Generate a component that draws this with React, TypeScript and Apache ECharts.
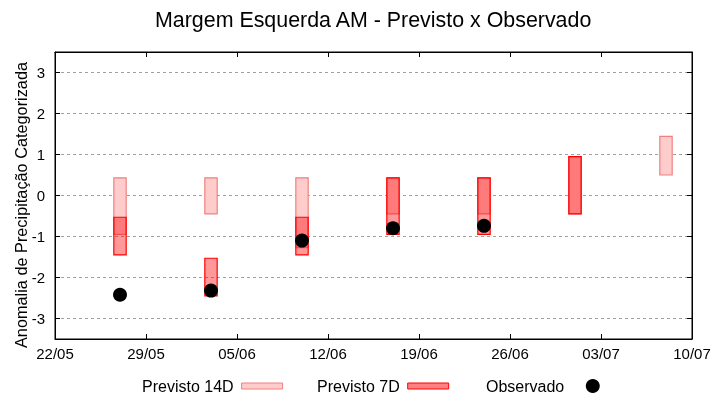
import React, { useEffect, useRef } from "react";
import * as echarts from "echarts";

const xTickLabels = ["22/05", "29/05", "05/06", "12/06", "19/06", "26/06", "03/07", "10/07"];
const yTickValues = [-3, -2, -1, 0, 1, 2, 3];
const yAxisTitle = "Anomalia de Precipitação Categorizada";

const dates14 = ["27/05", "03/06", "10/06", "17/06", "24/06", "01/07", "08/07"];
const low14 = [-0.95, -0.45, -1.27, -0.45, -0.45, -0.45, 0.5];
const high14 = [0.43, 0.43, 0.43, 0.43, 0.43, 0.95, 1.44];

const dates7 = ["27/05", "03/06", "10/06", "17/06", "24/06", "01/07"];
const low7 = [-1.45, -2.45, -1.45, -0.95, -0.95, -0.45];
const high7 = [-0.53, -1.53, -0.53, 0.43, 0.43, 0.95];

const datesObs = ["27/05", "03/06", "10/06", "17/06", "24/06"];
const obs = [-2.42, -2.32, -1.1, -0.8, -0.74];

const FONT = "'Liberation Sans', Arial, sans-serif";

function dayOf(s: string): number {
  const [d, m] = s.split("/").map(Number);
  const [d0, m0] = xTickLabels[0].split("/").map(Number);
  return Math.round((Date.UTC(2021, m - 1, d) - Date.UTC(2021, m0 - 1, d0)) / 86400000);
}

function barRender(fill: string, stroke: string) {
  return (params: any, api: any) => {
    const x = api.value(0);
    const lo = api.value(1);
    const hi = api.value(2);
    const p1 = api.coord([x, hi]);
    const p2 = api.coord([x, lo]);
    const w = api.size([0.95, 0])[0];
    return {
      type: "rect",
      shape: { x: p1[0] - w / 2, y: p1[1], width: w, height: p2[1] - p1[1] },
      style: { fill, stroke, lineWidth: 1.2 },
    };
  };
}

export default function App() {
  const ref = useRef<HTMLDivElement>(null);
  useEffect(() => {
    if (!ref.current) return;
    const chart = echarts.init(ref.current, undefined, { renderer: "svg" });
    const totalDays = (xTickLabels.length - 1) * 7;
    const data14 = dates14.map((d, i) => [dayOf(d), low14[i], high14[i]]);
    const data7 = dates7.map((d, i) => [dayOf(d), low7[i], high7[i]]);
    const dataObs = datesObs.map((d, i) => [dayOf(d), obs[i]]);
    const legendBase = {
      orient: "horizontal",
      align: "right",
      padding: 0,
      top: 378,
      textStyle: { fontFamily: FONT, fontSize: 16, color: "#000", padding: [0, 3, 0, 0] },
    };
    const axisLineStyle = { show: true, onZero: false, lineStyle: { color: "#000" } };
    const tickStyle = { show: true, inside: true, length: 5, lineStyle: { color: "#000" } };
    chart.setOption({
      animation: false,
      title: {
        text: "Margem Esquerda AM - Previsto x Observado",
        left: 155,
        top: 9,
        padding: 0,
        textStyle: { fontFamily: FONT, fontSize: 21.4, fontWeight: "normal", color: "#000" },
      },
      graphic: [
        {
          type: "text",
          x: 21,
          y: 205,
          rotation: Math.PI / 2,
          style: {
            text: yAxisTitle,
            fontFamily: FONT,
            fontSize: 16.3,
            fill: "#000",
            align: "center",
            verticalAlign: "middle",
          },
        },
      ],
      grid: {
        left: 55,
        right: 28,
        top: 52,
        bottom: 61,
        show: true,
        borderColor: "#000",
        borderWidth: 1,
        containLabel: false,
        outerBoundsMode: "none",
      },
      legend: [
        {
          ...legendBase,
          left: 142,
          itemWidth: 41,
          itemHeight: 6,
          data: [{ name: "Previsto 14D", icon: "rect", itemStyle: { color: "#ffcccc", borderColor: "#f08080", borderWidth: 1 } }],
        },
        {
          ...legendBase,
          left: 317,
          itemWidth: 41,
          itemHeight: 6,
          data: [{ name: "Previsto 7D", icon: "rect", itemStyle: { color: "#ff8080", borderColor: "#ff0000", borderWidth: 1 } }],
        },
        {
          ...legendBase,
          left: 486,
          itemWidth: 41,
          itemHeight: 14,
          data: [{ name: "Observado", icon: "circle", itemStyle: { color: "#000", opacity: 1 } }],
        },
      ],
      xAxis: [
        {
          type: "value",
          min: 0,
          max: totalDays,
          interval: 7,
          axisLine: axisLineStyle,
          axisTick: tickStyle,
          axisLabel: {
            margin: 7,
            fontFamily: FONT,
            fontSize: 15,
            color: "#000",
            formatter: (v: number) => xTickLabels[Math.round(v / 7)] ?? "",
          },
          splitLine: { show: false },
        },
        {
          type: "value",
          position: "top",
          min: 0,
          max: totalDays,
          interval: 7,
          axisLine: axisLineStyle,
          axisTick: tickStyle,
          axisLabel: { show: false },
          splitLine: { show: false },
        },
      ],
      yAxis: [
        {
          type: "value",
          min: -3.5,
          max: 3.5,
          splitNumber: yTickValues.length,
          axisLine: axisLineStyle,
          axisTick: tickStyle,
          axisLabel: {
            margin: 10,
            fontFamily: FONT,
            fontSize: 15,
            color: "#000",
            showMinLabel: false,
            showMaxLabel: false,
            formatter: (v: number) => (yTickValues.includes(v) ? String(v) : ""),
          },
          splitLine: { show: true, lineStyle: { color: "#a0a0a0", type: [3, 3], width: 1 } },
        },
        {
          type: "value",
          position: "right",
          min: -3.5,
          max: 3.5,
          splitNumber: yTickValues.length,
          axisLine: axisLineStyle,
          axisTick: tickStyle,
          axisLabel: { show: false },
          splitLine: { show: false },
        },
      ],
      series: [
        {
          name: "Previsto 14D",
          type: "custom",
          xAxisIndex: 0,
          yAxisIndex: 0,
          renderItem: barRender("#ffcccc", "#f08080"),
          encode: { x: 0, y: [1, 2] },
          data: data14,
          z: 2,
        },
        {
          name: "Previsto 7D",
          type: "custom",
          xAxisIndex: 0,
          yAxisIndex: 0,
          renderItem: barRender("rgba(255,0,0,0.4)", "#ff0000"),
          encode: { x: 0, y: [1, 2] },
          data: data7,
          z: 3,
        },
        {
          name: "Observado",
          type: "scatter",
          xAxisIndex: 0,
          yAxisIndex: 0,
          symbol: "circle",
          symbolSize: 14,
          itemStyle: { color: "#000", opacity: 1 },
          data: dataObs,
          z: 4,
        },
      ],
    });
    return () => chart.dispose();
  }, []);
  return <div ref={ref} style={{ position: "fixed", left: 0, top: 0, width: 720, height: 400 }} />;
}
